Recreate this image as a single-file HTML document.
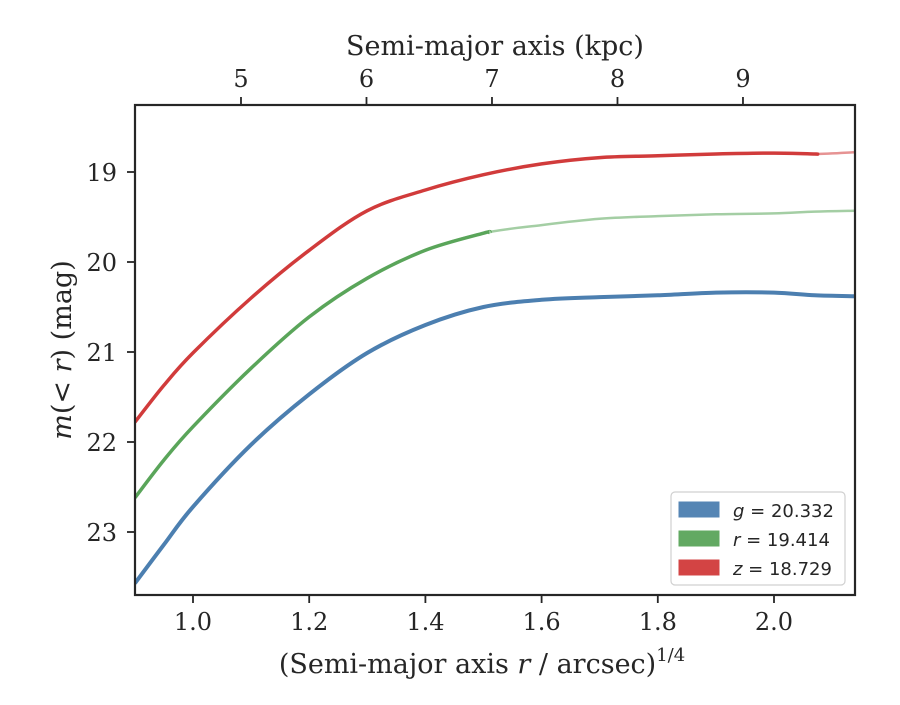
<!DOCTYPE html>
<html><head><meta charset="utf-8"><style>
body{margin:0;background:#fff}
svg text{font-family:"DejaVu Serif","Liberation Serif",serif;fill:#262626}
</style></head><body>
<svg id="c" width="900" height="700"></svg>
<script>
const xs=[0.9,0.95,1.0,1.1,1.2,1.3,1.4,1.5,1.6,1.7,1.8,1.9,2.0,2.07,2.14];
const gMag=[23.57,23.14,22.72,22.03,21.47,21.01,20.70,20.50,20.42,20.39,20.37,20.34,20.34,20.37,20.38];
const rMag=[22.62,22.2,21.83,21.18,20.61,20.18,19.87,19.68,19.59,19.52,19.49,19.47,19.46,19.44,19.43];
const zMag=[21.78,21.37,21.01,20.40,19.87,19.43,19.2,19.03,18.91,18.84,18.82,18.80,18.79,18.80,18.78];
const cutoffs=[2.14,1.51,2.07];
const xTicks=[1.0,1.2,1.4,1.6,1.8,2.0];
const yTicks=[19,20,21,22,23];
const kpcTicks=[5,6,7,8,9];
const legendLabels=["g = 20.332","r = 19.414","z = 18.729"];
const colors=["#4c7fb0","#5aa55a","#d13b3b"];
const L=135,R=855,T=105,B=595;
const X=v=>193+(v-1)*581;
const Y=m=>172+(m-19)*90;
const K=k=>X(1.0826+0.216*(k-5));
const svg=document.getElementById('c');const NS='http://www.w3.org/2000/svg';
function mk(t,a,txt){const e=document.createElementNS(NS,t);for(const k in a)e.setAttribute(k,a[k]);if(txt!==undefined)e.textContent=txt;svg.appendChild(e);return e;}
function smooth(p){let d='M'+p[0][0]+','+p[0][1];
  for(let i=0;i<p.length-1;i++){const p0=p[Math.max(0,i-1)],p1=p[i],p2=p[i+1],p3=p[Math.min(p.length-1,i+2)];
    const c1=[p1[0]+(p2[0]-p0[0])/6,p1[1]+(p2[1]-p0[1])/6],c2=[p2[0]-(p3[0]-p1[0])/6,p2[1]-(p3[1]-p1[1])/6];
    d+=' C'+c1[0]+','+c1[1]+' '+c2[0]+','+c2[1]+' '+p2[0]+','+p2[1];}
  return d;}
const cp=mk('clipPath',{id:'clip'});const cr=document.createElementNS(NS,'rect');cr.setAttribute('x',L);cr.setAttribute('y',T);cr.setAttribute('width',R-L);cr.setAttribute('height',B-T);cp.appendChild(cr);
const series=[gMag,rMag,zMag];const names=['g','r','z'];
series.forEach((s,i)=>{
  const all=xs.map((x,j)=>[X(x),Y(s[j])]);
  let e=mk('path',{d:smooth(all),fill:'none',stroke:colors[i],'stroke-width':2.5,opacity:0.55,'clip-path':'url(#clip)'});
  
  
  const pts=[];
  for(let j=0;j<xs.length;j++){ if(xs[j]<=cutoffs[i]) pts.push([X(xs[j]),Y(s[j])]); else { const x0=xs[j-1],x1=xs[j],t=(cutoffs[i]-x0)/(x1-x0); pts.push([X(cutoffs[i]),Y(s[j-1]+t*(s[j]-s[j-1]))]); break; } }
  e=mk('path',{d:smooth(pts),fill:'none',stroke:colors[i],'stroke-width':i==0?4:3.5,'clip-path':'url(#clip)'});
  
  
});
let f=mk('rect',{x:L,y:T,width:R-L,height:B-T,fill:'none',stroke:'#262626','stroke-width':2.2});

xTicks.forEach(v=>{mk('line',{x1:X(v),x2:X(v),y1:B,y2:B+8,stroke:'#262626','stroke-width':1.8});
  const t=mk('text',{x:X(v),y:B+35,'text-anchor':'middle','font-size':24},v.toFixed(1));
  });
yTicks.forEach(v=>{mk('line',{x1:L-8,x2:L,y1:Y(v),y2:Y(v),stroke:'#262626','stroke-width':1.8});
  const t=mk('text',{x:L-18,y:Y(v)+9,'text-anchor':'end','font-size':24},v);
  });
kpcTicks.forEach(v=>{mk('line',{x1:K(v),x2:K(v),y1:T-8,y2:T,stroke:'#262626','stroke-width':1.8});
  const t=mk('text',{x:K(v),y:T-18,'text-anchor':'middle','font-size':24},v);
  });
let t=mk('text',{x:495,y:55,'text-anchor':'middle','font-size':27},'Semi-major axis (kpc)');

t=mk('text',{x:482,y:673,'text-anchor':'middle','font-size':27});
t.innerHTML='(Semi-major axis <tspan font-style="italic">r</tspan> / arcsec)<tspan font-size="18" dy="-12">1/4</tspan>';

t=mk('text',{x:0,y:0,'text-anchor':'middle','font-size':27,transform:'translate(71,350) rotate(-90)'});
t.innerHTML='<tspan font-style="italic">m</tspan>(&lt; <tspan font-style="italic">r</tspan>) (mag)';

const lg=mk('rect',{x:671,y:492,width:174,height:93,rx:4,fill:'#fff',stroke:'#d0d0d0','stroke-width':1.2});

legendLabels.forEach((s,i)=>{const y=502+i*29;
  const r=mk('rect',{x:679,y:y,width:40,height:15,fill:colors[i],stroke:colors[i],opacity:0.95});
  
  const p=s.split(' = ');
  const tx=mk('text',{x:733,y:y+15,'font-size':18,style:'font-family:"DejaVu Sans","Liberation Sans",sans-serif'});
  tx.innerHTML='<tspan font-style="italic">'+p[0]+'</tspan> = '+p[1];
  });
</script></body></html>
